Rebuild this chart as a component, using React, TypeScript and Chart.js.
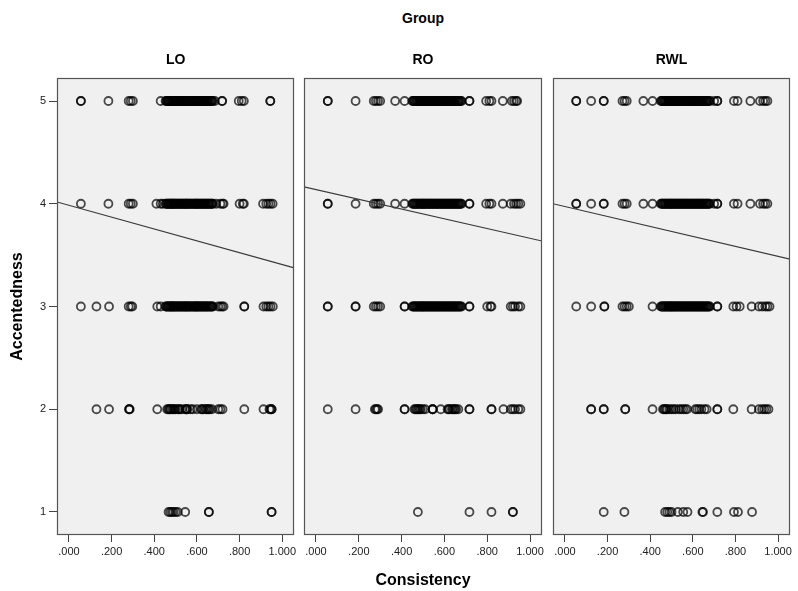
import React, { useEffect, useRef } from "react";
import { Chart, registerables } from "chart.js";

Chart.register(...registerables);

// ---------- data ----------
const groupNames = ["LO", "RO", "RWL"];
const yLevels = [1, 2, 3, 4, 5];
const xTickValues = [0, 0.2, 0.4, 0.6, 0.8, 1.0];
const X_MIN = -0.056;
const X_MAX = 1.056;
const Y_MIN = 0.776;
const Y_MAX = 5.224;

// dense clusters of consistency values
const loBand = [0.453, 0.457, 0.46, 0.464, 0.468, 0.471, 0.475, 0.478, 0.48, 0.484, 0.487, 0.49, 0.493, 0.497, 0.5, 0.504, 0.508, 0.511, 0.515, 0.519, 0.522, 0.526, 0.53, 0.533, 0.537, 0.541, 0.545, 0.548, 0.55, 0.554, 0.557, 0.561, 0.565, 0.568, 0.572, 0.576, 0.58, 0.584, 0.588, 0.591, 0.595, 0.598, 0.6, 0.604, 0.608, 0.611, 0.615, 0.619, 0.622, 0.626, 0.63, 0.633, 0.637, 0.641, 0.645, 0.648, 0.652, 0.656, 0.66, 0.664, 0.668, 0.671, 0.675];
const roBand = [0.45, 0.454, 0.458, 0.461, 0.465, 0.469, 0.472, 0.476, 0.48, 0.484, 0.487, 0.491, 0.495, 0.498, 0.5, 0.504, 0.508, 0.511, 0.515, 0.519, 0.522, 0.526, 0.53, 0.533, 0.537, 0.541, 0.545, 0.548, 0.552, 0.556, 0.56, 0.563, 0.567, 0.571, 0.575, 0.578, 0.582, 0.586, 0.59, 0.593, 0.597, 0.601, 0.605, 0.608, 0.612, 0.616, 0.62, 0.623, 0.627, 0.631, 0.635, 0.638, 0.642, 0.646, 0.65, 0.653, 0.657, 0.661, 0.665, 0.668, 0.672, 0.676, 0.68];
const rwlBand = [0.45, 0.454, 0.458, 0.461, 0.465, 0.469, 0.472, 0.476, 0.48, 0.484, 0.487, 0.491, 0.495, 0.498, 0.5, 0.504, 0.508, 0.511, 0.515, 0.519, 0.522, 0.526, 0.53, 0.533, 0.537, 0.541, 0.545, 0.548, 0.552, 0.556, 0.56, 0.563, 0.567, 0.571, 0.575, 0.578, 0.582, 0.586, 0.59, 0.593, 0.597, 0.601, 0.605, 0.608, 0.612, 0.616, 0.62, 0.623, 0.627, 0.631, 0.635, 0.638, 0.642, 0.646, 0.65, 0.653, 0.657, 0.661, 0.665, 0.668, 0.672, 0.676, 0.68];

// LO
const lo1 = [0.467, 0.475, 0.483, 0.49, 0.5, 0.51, 0.545, 0.656, 0.656, 0.95, 0.95];
const lo2 = [0.129, 0.188, 0.282, 0.282, 0.285, 0.414, 0.46, 0.466, 0.47, 0.474, 0.478, 0.485, 0.49, 0.495, 0.5, 0.51, 0.515, 0.52, 0.53, 0.545, 0.55, 0.552, 0.555, 0.57, 0.58, 0.6, 0.62, 0.625, 0.63, 0.64, 0.645, 0.65, 0.655, 0.66, 0.67, 0.7, 0.71, 0.72, 0.822, 0.912, 0.94, 0.945, 0.95, 0.95];
const lo3 = [0.056, 0.129, 0.188, 0.28, 0.29, 0.297, 0.414, 0.43, ...loBand, 0.7, 0.71, 0.718, 0.725, 0.822, 0.822, 0.912, 0.925, 0.935, 0.945, 0.956];
const lo4 = [0.056, 0.185, 0.28, 0.29, 0.3, 0.41, 0.43, 0.44, ...loBand, 0.69, 0.71, 0.72, 0.725, 0.8, 0.815, 0.82, 0.91, 0.925, 0.935, 0.945, 0.955];
const lo5 = [0.056, 0.056, 0.185, 0.28, 0.29, 0.3, 0.43, ...loBand, 0.684, 0.718, 0.718, 0.796, 0.81, 0.82, 0.944, 0.944];

// RO
const ro1 = [0.476, 0.717, 0.82, 0.92, 0.92];
const ro2 = [0.055, 0.185, 0.275, 0.28, 0.285, 0.29, 0.414, 0.414, 0.46, 0.465, 0.47, 0.475, 0.48, 0.485, 0.49, 0.5, 0.51, 0.545, 0.545, 0.545, 0.583, 0.615, 0.62, 0.625, 0.635, 0.64, 0.645, 0.65, 0.655, 0.665, 0.717, 0.717, 0.82, 0.82, 0.876, 0.91, 0.92, 0.93, 0.945, 0.955];
const ro3 = [0.055, 0.055, 0.185, 0.185, 0.27, 0.28, 0.29, 0.3, 0.414, 0.414, ...roBand, 0.717, 0.717, 0.8, 0.815, 0.82, 0.91, 0.92, 0.93, 0.945, 0.955];
const ro4 = [0.055, 0.055, 0.185, 0.27, 0.28, 0.29, 0.3, 0.37, 0.414, ...roBand, 0.717, 0.717, 0.795, 0.81, 0.82, 0.873, 0.91, 0.925, 0.935, 0.945, 0.955];
const ro5 = [0.055, 0.055, 0.185, 0.27, 0.28, 0.29, 0.3, 0.37, 0.414, ...roBand, 0.717, 0.717, 0.795, 0.81, 0.82, 0.873, 0.915, 0.925, 0.935, 0.94];

// RWL
const rwl1 = [0.182, 0.279, 0.47, 0.48, 0.49, 0.5, 0.53, 0.555, 0.575, 0.645, 0.648, 0.715, 0.793, 0.812, 0.878];
const rwl2 = [0.123, 0.123, 0.182, 0.182, 0.283, 0.283, 0.411, 0.46, 0.465, 0.47, 0.475, 0.48, 0.49, 0.5, 0.51, 0.52, 0.535, 0.545, 0.555, 0.565, 0.573, 0.612, 0.62, 0.63, 0.64, 0.655, 0.665, 0.715, 0.715, 0.79, 0.876, 0.91, 0.925, 0.935, 0.945, 0.955];
const rwl3 = [0.053, 0.123, 0.185, 0.185, 0.27, 0.28, 0.29, 0.3, 0.411, ...rwlBand, 0.715, 0.715, 0.79, 0.805, 0.82, 0.876, 0.91, 0.925, 0.94, 0.95, 0.96];
const rwl4 = [0.053, 0.053, 0.123, 0.182, 0.182, 0.27, 0.28, 0.29, 0.368, 0.411, ...rwlBand, 0.7, 0.715, 0.715, 0.793, 0.81, 0.87, 0.915, 0.93, 0.94, 0.95];
const rwl5 = [0.053, 0.053, 0.123, 0.182, 0.182, 0.27, 0.28, 0.29, 0.368, 0.411, ...rwlBand, 0.7, 0.715, 0.715, 0.793, 0.81, 0.87, 0.915, 0.93, 0.94, 0.95];

const groupRows = [
  [lo1, lo2, lo3, lo4, lo5],
  [ro1, ro2, ro3, ro4, ro5],
  [rwl1, rwl2, rwl3, rwl4, rwl5],
];

// linear fit lines (Accentedness = intercept + slope * Consistency)
const fitIntercept = [3.985, 4.137, 3.973];
const fitSlope = [-0.577, -0.473, -0.484];

// ---------- layout ----------
const FONT = "'Liberation Sans', Arial, Helvetica, sans-serif";
const W = 798;
const H = 591;

const panelLayout = [
  { left: 0, width: 300, padL: 0, padR: 5, showY: true, showXTitle: false },
  { left: 294, width: 258, padL: 10, padR: 10, showY: false, showXTitle: true },
  { left: 543, width: 255, padL: 10, padR: 8, showY: false, showXTitle: false },
];

const fmtX = (v: number | string) => {
  const s = Number(v).toFixed(3);
  return s.startsWith("0") ? s.slice(1) : s;
};

const boxPlugin = {
  id: "panelBox",
  beforeDraw(chart: any) {
    const { ctx, chartArea: a } = chart;
    ctx.save();
    ctx.fillStyle = "#f0f0f0";
    ctx.fillRect(a.left, a.top, a.right - a.left, a.bottom - a.top);
    ctx.restore();
  },
  afterDatasetsDraw(chart: any) {
    const { ctx, chartArea: a } = chart;
    ctx.save();
    ctx.strokeStyle = "#555555";
    ctx.lineWidth = 1.2;
    ctx.strokeRect(Math.round(a.left) + 0.5, Math.round(a.top) + 0.5, Math.round(a.right - a.left) - 1, Math.round(a.bottom - a.top) - 1);
    ctx.restore();
  },
};

function Panel({ idx }: { idx: number }) {
  const ref = useRef<HTMLCanvasElement>(null);
  const lay = panelLayout[idx];

  useEffect(() => {
    if (!ref.current) return;
    const rows = groupRows[idx];
    const points: { x: number; y: number }[] = [];
    rows.forEach((xs, i) => xs.forEach((x) => points.push({ x, y: yLevels[i] })));
    const b = fitIntercept[idx];
    const m = fitSlope[idx];

    const chart = new Chart(ref.current, {
      type: "scatter",
      data: {
        datasets: [
          {
            type: "line",
            data: [
              { x: X_MIN, y: b + m * X_MIN },
              { x: X_MAX, y: b + m * X_MAX },
            ],
            borderColor: "#3a3a3a",
            borderWidth: 1.2,
            pointRadius: 0,
            fill: false,
            order: 0,
          } as any,
          {
            type: "scatter",
            data: points,
            pointRadius: 4,
            pointHoverRadius: 4,
            borderColor: "rgba(0,0,0,0.7)",
            backgroundColor: "rgba(0,0,0,0)",
            borderWidth: 1.8,
            order: 1,
          },
        ],
      },
      options: {
        animation: false,
        responsive: false,
        events: [],
        layout: { padding: { left: lay.padL, right: lay.padR, top: 0, bottom: 0 } },
        plugins: {
          legend: { display: false },
          tooltip: { enabled: false },
          title: {
            display: true,
            text: groupNames[idx],
            fullSize: false,
            color: "#000",
            font: { family: FONT, size: 14, weight: "bold" },
            padding: { top: 52, bottom: 9.2 },
          },
        },
        scales: {
          x: {
            type: "linear",
            min: X_MIN,
            max: X_MAX,
            afterFit: (s: any) => {
              s.height = 56;
            },
            afterBuildTicks: (s: any) => {
              s.ticks = xTickValues.map((v) => ({ value: v }));
            },
            ticks: {
              stepSize: 0.2,
              includeBounds: false,
              autoSkip: false,
              maxRotation: 0,
              minRotation: 0,
              padding: 3,
              color: "#222",
              font: { family: FONT, size: 11 },
              callback: (v: any) => fmtX(v),
            },
            grid: { drawOnChartArea: false, drawTicks: true, tickLength: 7, color: "#444", lineWidth: 1 },
            border: { display: false },
            title: {
              display: lay.showXTitle,
              text: "Consistency",
              color: "#000",
              font: { family: FONT, size: 16, weight: "bold" },
              padding: { top: 0, bottom: 1 },
            },
          },
          y: {
            type: "linear",
            min: Y_MIN,
            max: Y_MAX,
            display: lay.showY,
            afterFit: (s: any) => {
              s.width = lay.showY ? 57 : 0;
            },
            afterBuildTicks: (s: any) => {
              s.ticks = yLevels.map((v) => ({ value: v }));
            },
            ticks: {
              stepSize: 1,
              includeBounds: false,
              padding: 3,
              color: "#222",
              font: { family: FONT, size: 11 },
            },
            grid: { drawOnChartArea: false, drawTicks: true, tickLength: 8, color: "#444", lineWidth: 1 },
            border: { display: false },
            title: {
              display: true,
              text: "Accentedness",
              color: "#000",
              font: { family: FONT, size: 16, weight: "bold" },
              padding: { top: 8.4, bottom: 0 },
            },
          },
        },
      },
      plugins: [boxPlugin],
    } as any);
    return () => chart.destroy();
  }, [idx]);

  return (
    <canvas
      ref={ref}
      width={lay.width}
      height={H}
      style={{ position: "absolute", left: lay.left, top: 0, width: lay.width, height: H }}
    />
  );
}

export default function App() {
  return (
    <div
      style={{
        position: "absolute",
        left: 0,
        top: 0,
        width: W,
        height: H,
        background: "#ffffff",
        overflow: "hidden",
      }}
    >
      <div
        style={{
          position: "absolute",
          left: 304,
          top: 10,
          width: 238,
          textAlign: "center",
          fontFamily: FONT,
          fontWeight: "bold",
          fontSize: 14,
          lineHeight: "17px",
          color: "#000",
        }}
      >
        Group
      </div>
      {groupNames.map((_, i) => (
        <Panel key={i} idx={i} />
      ))}
    </div>
  );
}
